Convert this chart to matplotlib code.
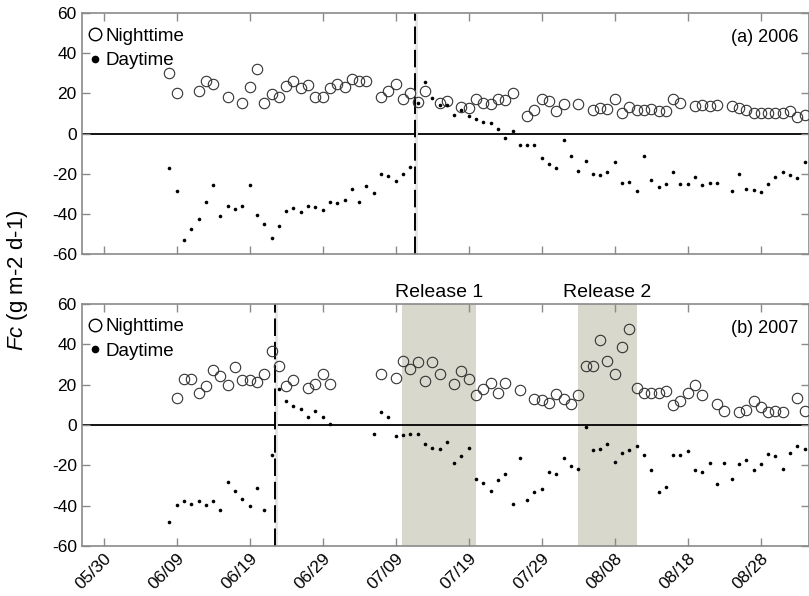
import numpy as np
import pandas as pd
import matplotlib
matplotlib.use("Agg")
import matplotlib.pyplot as plt
import matplotlib.dates as mdates
from matplotlib.lines import Line2D

plt.rcParams['font.family'] = ['Liberation Sans', 'DejaVu Sans']
plt.rcParams['axes.unicode_minus'] = False
plt.rcParams['mathtext.fontset'] = 'custom'
plt.rcParams['mathtext.it'] = 'Liberation Sans:italic'
plt.rcParams['mathtext.rm'] = 'Liberation Sans'

## day number counted from 05/30
start = pd.Timestamp('2007-05-30')

# (a) 2006
night06_day = [9, 10, 13, 14, 15, 17, 19, 20, 21, 22, 23, 24, 25, 26, 27, 28, 29, 30, 31, 32, 33, 34, 35, 36,
               38, 39, 40, 41, 42, 43, 44, 46, 47, 49, 50, 51, 52, 53, 54, 55, 56, 58, 59, 60, 61, 62, 63, 65,
               67, 68, 69, 70, 71, 72, 73, 74, 75, 76, 77, 78, 79, 81, 82, 83, 84, 86, 87, 88, 89, 90, 91, 92,
               93, 94, 95, 96]
night06_fc = [30, 20.3, 21.3, 26.3, 24.5, 18.2, 15.2, 23, 32, 15.3, 19.7, 18.2, 23.8, 26.3, 22.5, 24.3, 18, 18.2,
              22.5, 24.5, 23.2, 27.2, 26.3, 26.3, 18.3, 21, 24.7, 17.2, 20.2, 15.7, 21.3, 15.2, 16.3, 13, 12.8,
              17, 15.3, 14.7, 17.3, 16.5, 20, 8.5, 11.5, 17, 16, 11.2, 14.5, 14.5, 11.7, 12.8, 12.3, 17, 10.2,
              13.2, 11.5, 11.5, 12, 11, 11, 17, 15, 13.8, 14.2, 13.5, 14.3, 13.5, 12.5, 11.5, 10.3, 10.2, 10.2,
              10.2, 10.3, 11, 8.2, 9.2]
day06_day = list(range(9, 85)) + list(range(86, 97))
day06_fc = [-17.2, -28.5, -53, -47.5, -42.5, -34.2, -25.5, -41, -36, -37.7, -36.3, -25.7, -40.5, -45.2, -52.3,
            -46, -38.7, -37.3, -39, -36.2, -36.5, -38.2, -34, -34.7, -33.2, -27.7, -34.3, -26.3, -29.8, -20.3,
            -21, -23.5, -20.3, -16.8, 15.2, 25.7, 17.8, 14.2, 14.3, 9.3, 11.7, 8.7, 7.3, 5.5, 5.3, 2.3, -2.3,
            1.2, -5.8, -5.5, -5.5, -12.2, -15, -17.2, -3, -11.3, -18.7, -13.8, -20.3, -20.8, -19.2, -14.3,
            -24.7, -24.3, -28.8, -11.3, -23, -26.7, -25.2, -19.2, -25.2, -25, -21.8, -25.7, -24.5, -24.5,
            -28.8, -20.2, -27.5, -28.3, -29.2, -25.3, -21.8, -19, -20.8, -22.2, -14.3]
event06 = 42.6

# (b) 2007
night07_day = [10, 11, 12, 13, 14, 15, 16, 17, 18, 19, 20, 21, 22, 23, 24, 25, 26, 28, 29, 30, 31, 38, 40, 41,
               42, 43, 44, 45, 46, 48, 49, 50, 51, 52, 53, 54, 55, 57, 59, 60, 61, 62, 63, 64, 65, 66, 67, 68,
               69, 70, 71, 72, 73, 74, 75, 76, 77, 78, 79, 80, 81, 82, 84, 85, 87, 88, 89, 90, 91, 92, 93, 95, 96]
night07_fc = [13.2, 23, 23, 15.8, 19.5, 27.3, 24.2, 20, 28.5, 22.3, 22.2, 21.2, 25.3, 36.7, 29.3, 19.5, 22.3,
              18.2, 20.3, 25.5, 20.3, 25.5, 23.3, 31.6, 27.9, 31, 22, 31, 25.5, 20.5, 26.7, 22.6, 14.7, 18, 21,
              15.7, 20.8, 17.2, 12.8, 12.3, 10.7, 15.5, 12.7, 10.3, 15, 29, 29, 42.2, 31.8, 25.3, 38.7, 47.8,
              18.3, 15.8, 15.8, 15.8, 16.8, 10, 11.8, 15.8, 19.7, 15, 10.2, 6.8, 6.3, 7.2, 12, 9, 6.2, 6.8,
              6.2, 13.5, 6.7]
day07_day = list(range(9, 32)) + list(range(37, 97))
day07_fc = [-48, -39.7, -37.5, -39.2, -37.5, -39.7, -37.5, -42.2, -28.2, -32.8, -36.5, -40.2, -31.3, -42,
            -14.8, 17.7, 12, 9.5, 8, 4, 7, 3.8, 0.3,
            -4.5, 6.2, 4, -5.7, -4.8, -4.3, -4.5, -9.3, -11.3, -11.7, -8.3, -19, -15.3, -11.2, -26.7, -28.8,
            -32.7, -27.2, -24.3, -39.3, -16.5, -37.3, -33.2, -32, -23.3, -24.5, -16.5, -20.3, -21.7, -1,
            -12.5, -11.7, -9.5, -18.3, -13.7, -12.2, -10.3, -14.7, -22.3, -33.3, -31, -14.8, -14.8, -12.8,
            -22.5, -23.3, -19, -29.3, -19, -26.8, -19.3, -17.5, -22.3, -19.5, -14.5, -15.2, -21.8, -14,
            -10.3, -11.8]
event07 = 23.5
releases = [("Release 1", 40.9, 51.0), ("Release 2", 64.9, 73.0)]


def to_date(d):
    return start + pd.to_timedelta(np.asarray(d, dtype=float), unit='D')


fig = plt.figure(figsize=(8.09, 5.96), dpi=100)
ax1 = fig.add_axes([0.101, 0.574, 0.899, 0.404])
ax2 = fig.add_axes([0.101, 0.084, 0.899, 0.406])

frame = '#8a8a8a'
panels = [(ax1, night06_day, night06_fc, day06_day, day06_fc, event06, '(a) 2006'),
          (ax2, night07_day, night07_fc, day07_day, day07_fc, event07, '(b) 2007')]

for ax, nd, nv, dd, dv, ev, lab in panels:
    if ax is ax2:
        for name, a, b in releases:
            ax.axvspan(to_date([a])[0], to_date([b])[0], color='#d9d8cc', lw=0, zorder=0)
            ax.text(to_date([(a + b) / 2])[0], 61.5, name, ha='center', va='bottom', fontsize=14)
    ax.axhline(0, color='black', lw=1.3, zorder=1)
    evx = to_date([ev])[0]
    ax.axvline(evx + pd.Timedelta(hours=4), color='#e4e4e4', lw=2.0, zorder=1)
    ax.axvline(evx, color='black', lw=1.4, ls=(0, (9, 3)), zorder=2)
    ax.plot(to_date(nd), nv, 'o', ms=7.5, mfc='none', mec='#333333', mew=0.8, zorder=3)
    ax.plot(to_date(dd), dv, 'o', ms=2.6, color='black', mew=0, zorder=4)

    ax.set_ylim(-60, 60)
    ax.set_yticks([-60, -40, -20, 0, 20, 40, 60])
    ax.set_xlim(to_date([-3.0])[0], to_date([96.6])[0])
    ax.set_xticks(to_date(np.arange(0, 91, 10)))
    ax.xaxis.set_major_formatter(mdates.DateFormatter('%m/%d'))
    ax.tick_params(direction='in', length=6, color=frame, top=True, right=True,
                   labelsize=12.5, width=1)
    for s in ax.spines.values():
        s.set_color(frame)
        s.set_linewidth(1.2)
    ax.text(0.985, 0.9, lab, transform=ax.transAxes, ha='right', va='center', fontsize=13)

    handles = [Line2D([], [], ls='none', marker='o', ms=9, mfc='none', mec='black', mew=1),
               Line2D([], [], ls='none', marker='o', ms=4.5, color='black')]
    ax.legend(handles, ['Nighttime', 'Daytime'], loc='upper left', bbox_to_anchor=(-0.012, 0.995),
              frameon=False, fontsize=13.5, handletextpad=0.05, handlelength=1.0,
              borderaxespad=0.5, labelspacing=0.4, borderpad=0.2)

ax1.tick_params(labelbottom=False)
for t in ax2.get_xticklabels():
    t.set_rotation(45)
    t.set_ha('right')
    t.set_rotation_mode('anchor')

fig.text(0.022, 0.53, r'$\mathit{Fc}$ (g m-2 d-1)', rotation=90, ha='center', va='center', fontsize=16)

fig.savefig('out.png', dpi=100)
